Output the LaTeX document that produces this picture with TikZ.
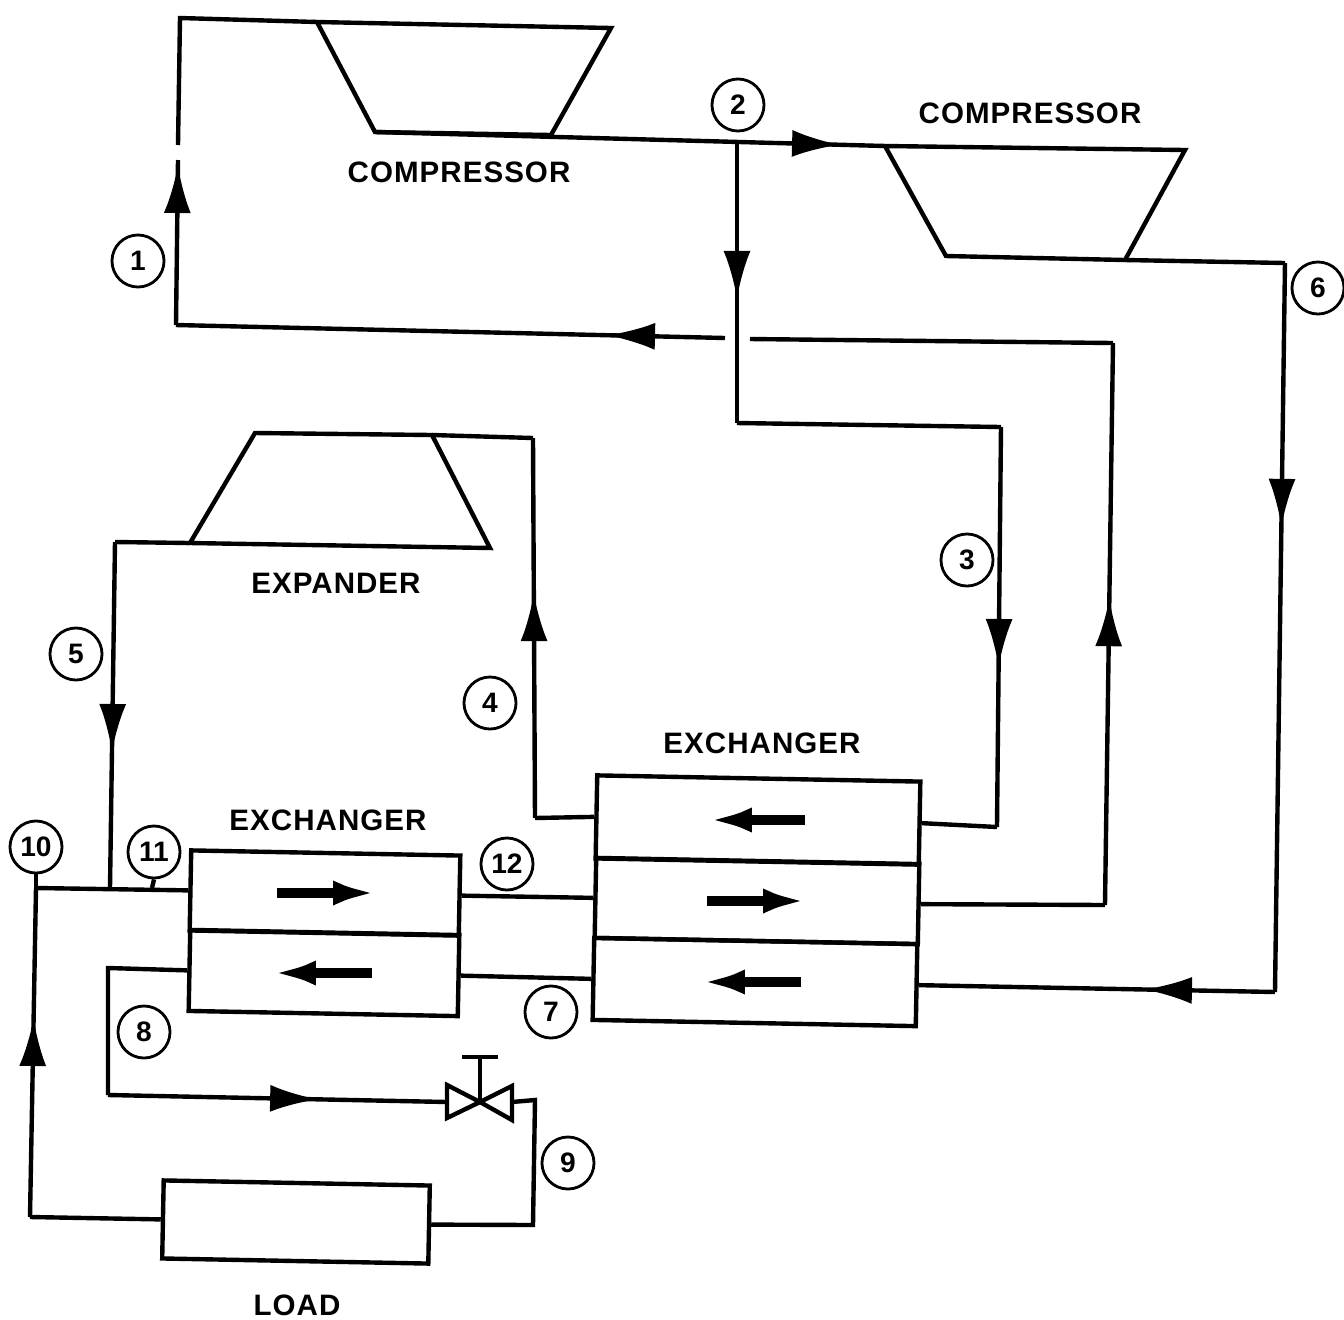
\documentclass[tikz,border=0pt]{standalone}
\usepackage{fontspec}
\setmainfont{Liberation Sans}
\usetikzlibrary{arrows.meta}
\usetikzlibrary{decorations.markings}

\begin{document}
\begin{tikzpicture}[x=0.01cm,y=-0.01cm]
    % Stili
    \tikzset{
        pipe/.style={line width=1.25pt, line join=miter},
        flow/.style={
            postaction={decorate},
            decoration={markings, mark=at position #1 with {\arrow{Latex[length=4.8mm,width=2.7mm]}}}
        },
        cell/.style={
            draw, line width=1.25pt, rotate=-1.1,
            minimum width=3.23cm, inner sep=0pt
        },
        state point/.style={
            circle, draw, line width=0.8pt,
            minimum size=5.2mm, inner sep=0pt,
            font=\bfseries\fontsize{8}{8}\selectfont
        },
        unit label/.style={font=\bfseries\fontsize{8.4}{9}\selectfont\addfontfeature{LetterSpace=3.5}},
        inner flow/.style={
            line width=2.6pt,
            -{Latex[length=4.4mm,width=2.5mm]}
        }
    }
    \useasboundingbox (0,0) rectangle (1344,1320);

    % Scambiatori e carico
    \node[cell, minimum height=8.3mm] (hxa) at (758,820) {};
    \node[cell, minimum height=8mm] (hxb) at (757,901) {};
    \node[cell, minimum height=8.2mm] (hxc) at (755,982) {};
    \node[cell, minimum width=2.69cm, minimum height=8mm] (lxa) at (325,893) {};
    \node[cell, minimum width=2.69cm, minimum height=8.1mm] (lxb) at (324,973) {};
    \node[cell, minimum width=2.66cm, minimum height=7.8mm] (load) at (296,1222) {};

    % Compressori ed espansore
    \coordinate (ca1) at (317,22);
    \coordinate (ca2) at (611,28);
    \coordinate (ca3) at (551,135);
    \coordinate (ca4) at (375,132);
    \draw[pipe] (ca1) -- (ca2) -- (ca3) -- (ca4) -- cycle;
    \coordinate (cb1) at (885,146);
    \coordinate (cb2) at (1185,150);
    \coordinate (cb3) at (1125,260);
    \coordinate (cb4) at (946,256);
    \draw[pipe] (cb1) -- (cb2) -- (cb3) -- (cb4) -- cycle;
    \coordinate (ex1) at (255,433);
    \coordinate (ex2) at (432,435);
    \coordinate (ex3) at (490,548);
    \coordinate (ex4) at (190,543);
    \draw[pipe] (ex1) -- (ex2) -- (ex3) -- (ex4) -- cycle;

    % Valvola
    \coordinate (va) at (480,1102);
    \coordinate (vl) at (447,1102);
    \coordinate (vr) at (512,1102);
    \draw[pipe] (va) -- (447,1085) -- (447,1118) -- cycle;
    \draw[pipe] (va) -- (512,1086) -- (512,1120) -- cycle;
    \draw[pipe] (va) -- (480,1058);
    \draw[pipe] (462,1057) -- (498,1057);

    % Punti di stato
    \node[state point] (s1) at (138,261) {1};
    \node[state point] (s2) at (738,105) {2};
    \node[state point] (s3) at (967,560) {3};
    \node[state point] (s4) at (490,703) {4};
    \node[state point] (s5) at (76,654) {5};
    \node[state point] (s6) at (1318,288) {6};
    \node[state point] (s7) at (551,1012) {7};
    \node[state point] (s8) at (144,1032) {8};
    \node[state point] (s9) at (568,1163) {9};
    \node[state point] (s10) at (36,847) {10};
    \node[state point] (s11) at (154,852) {11};
    \node[state point] (s12) at (507,864) {12};

    % Etichette
    \node[unit label] (lca) at (459,172) {COMPRESSOR};
    \node[unit label] (lcb) at (1030,113) {COMPRESSOR};
    \node[unit label] (lex) at (336,583) {EXPANDER};
    \node[unit label] (lhx) at (762,743) {EXCHANGER};
    \node[unit label] (llx) at (328,820) {EXCHANGER};
    \node[unit label] (llo) at (297,1305) {LOAD};

    % Punti delle tubazioni
    \coordinate (p1) at (180,18);
    \coordinate (p2) at (178,145);
    \coordinate (p3) at (178,160);
    \coordinate (p4) at (176,325);
    \coordinate (p5) at (725,338);
    \coordinate (p6) at (750,339);
    \coordinate (p7) at (1113,343);
    \coordinate (p8) at (1105,905);
    \coordinate (p9) at (737,143);
    \coordinate (p10) at (737,423);
    \coordinate (p11) at (1001,427);
    \coordinate (p12) at (997,827);
    \coordinate (p13) at (1285,263);
    \coordinate (p14) at (1275,992);
    \coordinate (p15) at (533,438);
    \coordinate (p16) at (535,818);
    \coordinate (p17) at (115,542);
    \coordinate (p18) at (110,888);
    \coordinate (p19) at (36,888);
    \coordinate (p20) at (108,968);
    \coordinate (p21) at (108,1095);
    \coordinate (p22) at (535,1100);
    \coordinate (p23) at (533,1225);
    \coordinate (p24) at (30,1217);
    \coordinate (p25) at (152,888);

    % Tubazioni
    \draw[pipe] (p2) -- (p1) -- (ca1);
    \draw[pipe, flow=0.97] (p4) -- (p3);
    \draw[pipe, flow=0.215] (p5) -- (p4);
    \draw[pipe] (p7) -- (p6);
    \draw[pipe, flow=0.546] (p8) -- (p7);
    \draw[pipe] (hxb.east) -- (p8);
    \draw[pipe, flow=0.912] (ca4) -- (cb1);
    \draw[pipe, flow=0.557] (p9) -- (p10);
    \draw[pipe] (p10) -- (p11);
    \draw[pipe, flow=0.6] (p11) -- (p12);
    \draw[pipe] (p12) -- (hxa.east);
    \draw[pipe] (cb3) -- (p13);
    \draw[pipe, flow=0.362] (p13) -- (p14);
    \draw[pipe, flow=0.368] (p14) -- (hxc.east);
    \draw[pipe] (ex2) -- (p15);
    \draw[pipe, flow=0.592] (p16) -- (p15);
    \draw[pipe] (p16) -- (hxa.west);
    \draw[pipe] (ex4) -- (p17);
    \draw[pipe, flow=0.607] (p17) -- (p18);
    \draw[pipe] (p19) -- (lxa.west);
    \draw[pipe] (lxa.east) -- (hxb.west);
    \draw[pipe] (lxb.east) -- (hxc.west);
    \draw[pipe] (lxb.west) -- (p20) -- (p21);
    \draw[pipe, flow=0.62] (p21) -- (vl);
    \draw[pipe] (vr) -- (p22) -- (p23) -- (load.east);
    \draw[pipe] (load.west) -- (p24);
    \draw[pipe, flow=0.605] (p24) -- (p19);
    \draw[pipe] (p19) -- (s10.south);
    \draw[pipe] (p25) -- (s11.south);

    % Frecce interne
    \draw[inner flow] ([xshift=4.7mm]hxa.center) -- ([xshift=-5mm]hxa.center);
    \draw[inner flow] ([xshift=-5mm]hxb.center) -- ([xshift=5mm]hxb.center);
    \draw[inner flow] ([xshift=4.6mm]hxc.center) -- ([xshift=-5.4mm]hxc.center);
    \draw[inner flow] ([xshift=-4.8mm]lxa.center) -- ([xshift=5.2mm]lxa.center);
    \draw[inner flow] ([xshift=4.8mm]lxb.center) -- ([xshift=-5.2mm]lxb.center);
\end{tikzpicture}
\end{document}
